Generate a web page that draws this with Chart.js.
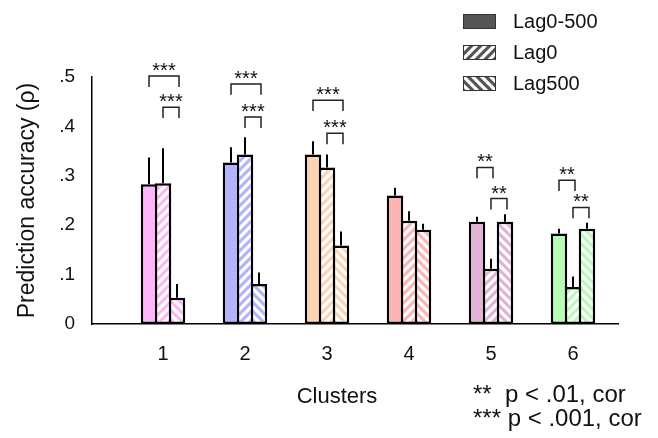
<!DOCTYPE html>
<html>
<head>
<meta charset="utf-8">
<script src="https://cdn.jsdelivr.net/npm/chart.js@4.4.0/dist/chart.umd.min.js"></script>
<style>
  html, body { margin: 0; padding: 0; background: #fff; }
  #wrap { width: 658px; height: 438px; position: relative; }
</style>
</head>
<body>
<div id="wrap"><canvas id="chart"></canvas></div>
<script>
// data
const clusters = [1, 2, 3, 4, 5, 6];
const seriesNames = ['Lag0-500', 'Lag0', 'Lag500'];
const lag0500 = [0.283, 0.327, 0.343, 0.260, 0.207, 0.183];
const lag0 = [0.285, 0.343, 0.317, 0.209, 0.112, 0.075];
const lag500 = [0.053, 0.081, 0.159, 0.191, 0.207, 0.193];
const lag0500Err = [0.054, 0.031, 0.027, 0.016, 0.010, 0.010];
const lag0Err = [0.071, 0.035, 0.026, 0.019, 0.020, 0.021];
const lag500Err = [0.028, 0.023, 0.028, 0.012, 0.015, 0.012];
const clusterColors = ['#ffb6f9', '#b4b4fe', '#fdd3b3', '#fdb4b4', '#e2b3d5', '#b6fbb6'];
const yTicks = [0, 0.1, 0.2, 0.3, 0.4, 0.5];
const yTickLabels = ['0', '.1', '.2', '.3', '.4', '.5'];

// significance brackets
const sigCluster = [1, 1, 2, 2, 3, 3, 5, 5, 6, 6];
const sigFrom = [0, 1, 0, 1, 0, 1, 0, 1, 0, 1];
const sigTo = [2, 2, 2, 2, 2, 2, 1, 2, 1, 2];
const sigY = [0.502, 0.439, 0.486, 0.419, 0.453, 0.386, 0.317, 0.254, 0.291, 0.236];
const sigLabel = ['***', '***', '***', '***', '***', '***', '**', '**', '**', '**'];
const footnotes = ['**  p < .01, cor', '*** p < .001, cor'];

const values = [lag0500, lag0, lag500];
const errors = [lag0500Err, lag0Err, lag500Err];
const hatch = [null, '/', '\\'];
const FONT = '"Liberation Sans", Arial, sans-serif';

function makePattern(color, dir) {
  const s = 9;
  const c = document.createElement('canvas');
  c.width = s; c.height = s;
  const g = c.getContext('2d');
  g.fillStyle = color;
  g.fillRect(0, 0, s, s);
  if (dir) {
    g.strokeStyle = '#fff';
    g.lineWidth = 3.2;
    g.beginPath();
    if (dir === '/') {
      g.moveTo(-2, s + 2); g.lineTo(s + 2, -2);
      g.moveTo(-2, 2); g.lineTo(2, -2);
      g.moveTo(s - 2, s + 2); g.lineTo(s + 2, s - 2);
    } else {
      g.moveTo(-2, -2); g.lineTo(s + 2, s + 2);
      g.moveTo(-2, s - 2); g.lineTo(2, s + 2);
      g.moveTo(s - 2, -2); g.lineTo(s + 2, 2);
    }
    g.stroke();
  }
  return g.createPattern(c, 'repeat');
}

const datasets = seriesNames.map((name, i) => ({
  label: name,
  data: clusters.map((c, j) => ({ x: c, y: values[i][j] })),
  backgroundColor: clusterColors.map(col => makePattern(col, hatch[i])),
  borderColor: '#000',
  borderWidth: 2.5,
  borderSkipped: false,
  barPercentage: 16.5 / 14,
  categoryPercentage: 0.512
}));

const errorBars = {
  id: 'errorBars',
  afterDatasetsDraw(chart) {
    const { ctx, scales: { y } } = chart;
    ctx.save();
    ctx.strokeStyle = '#000';
    ctx.lineWidth = 2;
    values.forEach((vals, i) => {
      const meta = chart.getDatasetMeta(i);
      vals.forEach((v, j) => {
        const x = Math.round(meta.data[j].x);
        ctx.beginPath();
        ctx.moveTo(x, y.getPixelForValue(v));
        ctx.lineTo(x, y.getPixelForValue(v + errors[i][j]));
        ctx.stroke();
      });
    });
    ctx.restore();
  }
};

const brackets = {
  id: 'brackets',
  afterDatasetsDraw(chart) {
    const { ctx, scales: { y } } = chart;
    ctx.save();
    ctx.strokeStyle = '#222';
    ctx.lineWidth = 1.5;
    ctx.fillStyle = '#111';
    ctx.font = '20px ' + FONT;
    ctx.textAlign = 'center';
    ctx.textBaseline = 'alphabetic';
    sigCluster.forEach((c, k) => {
      const j = clusters.indexOf(c);
      const x1 = chart.getDatasetMeta(sigFrom[k]).data[j].x;
      const x2 = chart.getDatasetMeta(sigTo[k]).data[j].x + 2;
      const top = y.getPixelForValue(sigY[k]);
      const bot = y.getPixelForValue(sigY[k] - 0.022);
      ctx.beginPath();
      ctx.moveTo(x1, bot); ctx.lineTo(x1, top); ctx.lineTo(x2, top); ctx.lineTo(x2, bot);
      ctx.stroke();
      ctx.fillText(sigLabel[k], (x1 + x2) / 2, top + 1);
    });
    ctx.restore();
  }
};

const sideText = {
  id: 'sideText',
  afterDraw(chart) {
    const { ctx } = chart;
    ctx.save();
    // legend
    const rows = [21, 52, 83];
    seriesNames.forEach((name, i) => {
      ctx.fillStyle = makePattern('#555', hatch[i]);
      ctx.fillRect(463, rows[i] - 7, 33, 15);
      ctx.strokeStyle = '#333';
      ctx.lineWidth = 1;
      ctx.strokeRect(463.5, rows[i] - 6.5, 32, 14);
      ctx.fillStyle = '#111';
      ctx.font = '20px ' + FONT;
      ctx.textAlign = 'left';
      ctx.textBaseline = 'middle';
      ctx.fillText(name, 513, rows[i] + 1);
    });
    // x-axis title
    ctx.font = '22px ' + FONT;
    ctx.textAlign = 'center';
    ctx.fillText('Clusters', 337, 397);
    // footnotes
    ctx.font = '24px ' + FONT;
    ctx.textAlign = 'left';
    ctx.fillText(footnotes[0], 473, 395);
    ctx.fillText(footnotes[1], 473, 419);
    ctx.restore();
  }
};

new Chart(document.getElementById('chart'), {
  type: 'bar',
  data: { datasets },
  plugins: [errorBars, brackets, sideText],
  options: {
    responsive: true,
    maintainAspectRatio: false,
    animation: false,
    layout: { padding: { top: 77, right: 40, left: 0, bottom: 0 } },
    plugins: { legend: { display: false }, tooltip: { enabled: false } },
    scales: {
      x: {
        type: 'linear',
        offset: false,
        min: 0.134,
        max: 6.549,
        afterBuildTicks: s => { s.ticks = clusters.map(v => ({ value: v })); },
        afterFit: s => { s.height = 114; },
        grid: { display: false, drawTicks: false },
        border: { display: true, color: '#000', width: 1.5 },
        ticks: { color: '#111', font: { family: FONT, size: 20 }, padding: 18, callback: v => String(v) }
      },
      y: {
        min: 0,
        max: 0.5,
        afterBuildTicks: s => { s.ticks = yTicks.map(v => ({ value: v })); },
        afterFit: s => { s.width = 92; },
        grid: { display: false, drawTicks: false },
        border: { display: true, color: '#000', width: 1.5 },
        ticks: { color: '#111', font: { family: FONT, size: 19 }, padding: 17,
                 callback: (v, i) => yTickLabels[i] },
        title: { display: true, text: 'Prediction accuracy (ρ)', color: '#111',
                 font: { family: FONT, size: 23 }, padding: { top: 14, bottom: 0 } }
      }
    }
  }
});
</script>
</body>
</html>
